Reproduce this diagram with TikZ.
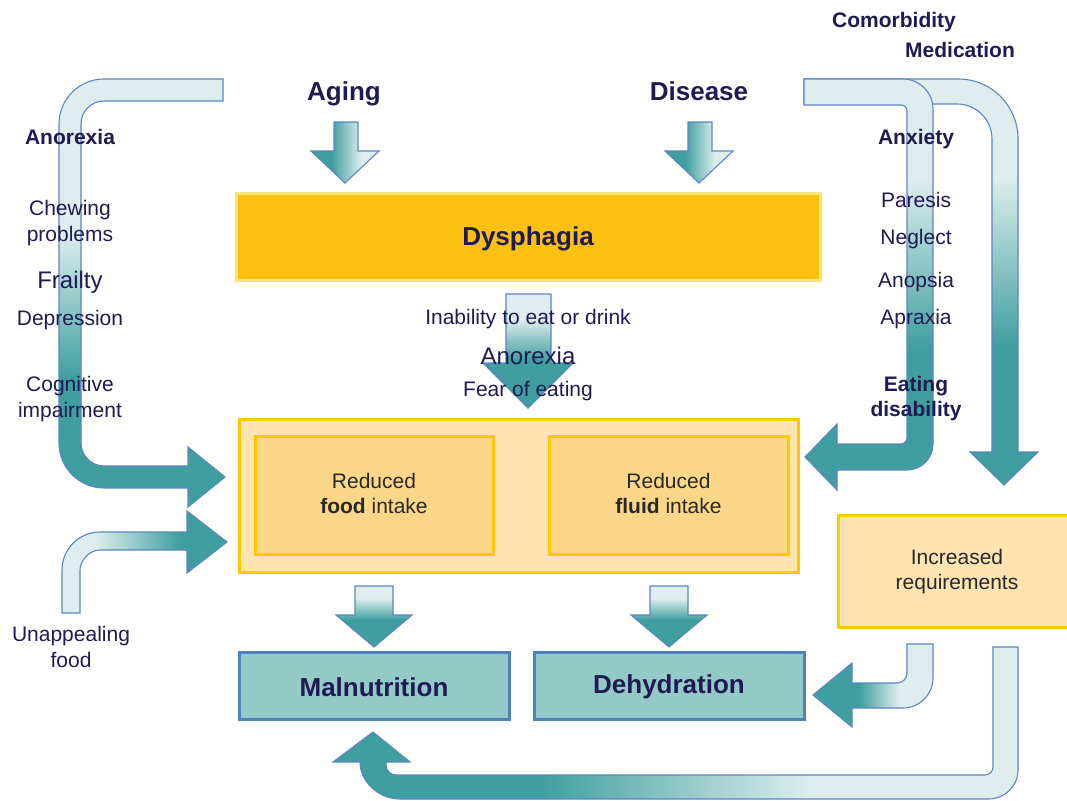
\documentclass[tikz,border=0pt]{standalone}
\usepackage{fontspec}
\setmainfont{Liberation Sans}
\definecolor{teal1}{RGB}{63,158,158}
\definecolor{light1}{RGB}{222,238,238}
\definecolor{outl}{RGB}{91,134,197}
\definecolor{navy}{RGB}{31,27,82}
\definecolor{dgray}{RGB}{40,40,40}
\definecolor{dysfill}{RGB}{251,192,18}
\definecolor{dysline}{RGB}{246,232,110}
\definecolor{peach}{RGB}{253,228,178}
\definecolor{peachtwo}{RGB}{252,215,138}
\definecolor{gold}{RGB}{255,200,0}
\definecolor{tealbox}{RGB}{147,201,198}
\definecolor{bluebox}{RGB}{79,129,189}
\pgfdeclareverticalshading{hookL}{100bp}{color(0bp)=(teal1); color(40bp)=(teal1); color(57bp)=(light1); color(100bp)=(light1)}
\pgfdeclareverticalshading{hookR}{100bp}{color(0bp)=(teal1); color(42bp)=(teal1); color(63bp)=(light1); color(100bp)=(light1)}
\pgfdeclarehorizontalshading{unapp}{100bp}{color(0bp)=(light1); color(35bp)=(light1); color(61bp)=(teal1); color(100bp)=(teal1)}
\pgfdeclarehorizontalshading{topdown}{100bp}{color(0bp)=(teal1); color(40bp)=(teal1); color(62bp)=(light1); color(100bp)=(light1)}
\pgfdeclareverticalshading{midv}{100bp}{color(0bp)=(teal1); color(46bp)=(teal1); color(64bp)=(light1); color(100bp)=(light1)}
\pgfdeclareverticalshading{smallv}{100bp}{color(0bp)=(teal1); color(47bp)=(teal1); color(65bp)=(light1); color(100bp)=(light1)}
\pgfdeclarehorizontalshading{reqdeh}{100bp}{color(0bp)=(teal1); color(44bp)=(teal1); color(61bp)=(light1); color(100bp)=(light1)}
\pgfdeclarehorizontalshading{bottomh}{100bp}{color(0bp)=(teal1); color(40bp)=(teal1); color(60bp)=(light1); color(100bp)=(light1)}
\tikzset{
  barrow/.style={draw=outl, line width=1.1pt, line join=miter},
  lbl/.style={font=\fontsize{21}{26}\selectfont, text=navy, align=center, inner sep=0pt},
  lblb/.style={font=\fontsize{21}{25}\selectfont\bfseries, text=navy, align=center, inner sep=0pt},
  lblbig/.style={font=\fontsize{24}{28}\selectfont, text=navy, align=center, inner sep=0pt},
  toplbl/.style={font=\fontsize{21}{25}\selectfont\bfseries, text=navy, inner sep=0pt},
  big/.style={font=\fontsize{26}{30}\selectfont\bfseries, text=navy, inner sep=0pt},
  boxtxt/.style={font=\fontsize{21}{25}\selectfont, text=dgray, align=center, inner sep=0pt},
  yelbox/.style={draw=gold, line width=3pt, fill=peach},
  inbox/.style={draw=gold, line width=3pt, fill=peachtwo},
  resbox/.style={draw=bluebox, line width=3pt, fill=tealbox},
}
\begin{document}
\begin{tikzpicture}[x=1pt,y=-1pt]
\useasboundingbox (0,0) rectangle (1067,800);
\clip (0,0) rectangle (1067,800);

% boxes
\node[draw=dysline, line width=3pt, fill=dysfill, minimum width=584pt, minimum height=87pt] (dys) at (528,236.5) {};
\node[big] (dystxt) at (528,239) {Dysphagia};
\node[yelbox, minimum width=559pt, minimum height=153pt] (intake) at (518.5,495.5) {};
\node[inbox, minimum width=238pt, minimum height=118pt] (food) at (374,495) {};
\node[inbox, minimum width=239pt, minimum height=118pt] (fluid) at (668.5,495) {};
\node[boxtxt] (foodtxt) at (374,493) {Reduced\\\textbf{food} intake};
\node[boxtxt] (fluidtxt) at (668.5,493) {Reduced\\\textbf{fluid} intake};
\node[resbox, minimum width=270pt, minimum height=67pt] (mal) at (374,685.5) {};
\node[big] (maltxt) at (374,687) {Malnutrition};
\node[resbox, minimum width=270pt, minimum height=67pt] (deh) at (669,685.5) {};
\node[big] (dehtxt) at (669,687) {Dehydration};
\node[yelbox, minimum width=238pt, minimum height=112pt] (inc) at (957,571) {};
\node[boxtxt] (inctxt) at (957,572) {Increased\\requirements};

% block arrows
% left big hook
\path[barrow, shading=hookL] (223,79) -- (104,79) .. controls (79.2,79) and (59,99.2) .. (59,124) -- (59,443) .. controls (59,467.8) and (79.2,488) .. (104,488) -- (188,488) -- (188,507) -- (225,477) -- (188,447) -- (188,466) -- (104,466) .. controls (91.3,466) and (81,455.3) .. (81,443) -- (81,124) .. controls (81,111.3) and (91.3,101) .. (104,101) -- (223,101) -- cycle;
% unappealing food arrow
\path[barrow, shading=unapp] (62,613) -- (62,570) .. controls (62,549) and (79,532) .. (100,532) -- (187,532) -- (187,511) -- (227,542) -- (187,573) -- (187,550) -- (100,550) .. controls (89,550) and (80,561) .. (80,570) -- (80,613) -- cycle;
% aging / disease arrows
\path[barrow, shading=topdown] (334,122) -- (358,122) -- (358,151) -- (379,151) -- (345,183) -- (311,151) -- (334,151) -- cycle;
\path[barrow, shading=topdown] (688,122) -- (712,122) -- (712,151) -- (733,151) -- (699,183) -- (665,151) -- (688,151) -- cycle;
% middle arrow
\path[barrow, shading=midv] (506,294) -- (551,294) -- (551,363) -- (573,363) -- (528,408) -- (483,363) -- (506,363) -- cycle;
% small down arrows
\path[barrow, shading=smallv] (355,586) -- (393,586) -- (393,615) -- (412,615) -- (374,647) -- (336,615) -- (355,615) -- cycle;
\path[barrow, shading=smallv] (650,586) -- (688,586) -- (688,615) -- (707,615) -- (669,647) -- (631,615) -- (650,615) -- cycle;
% right outer hook
\path[barrow, shading=hookR] (804,79) -- (958,79) .. controls (991.9,79) and (1018,105.9) .. (1018,139) -- (1018,452) -- (1038,452) -- (1004,485) -- (970,452) -- (992,452) -- (992,139) .. controls (992,119.7) and (976.3,104) .. (957,104) -- (804,104) -- cycle;
% right inner hook
\path[barrow, shading=hookR] (804,79) -- (903,79) .. controls (919.6,79) and (933,92.4) .. (933,109) -- (933,444) .. controls (933,458.4) and (921.4,470) .. (907,470) -- (837,470) -- (837,490) -- (805,457) -- (837,424) -- (837,444) -- (901,444) .. controls (904.3,444) and (907,440.7) .. (907,438) -- (907,111) .. controls (907,107.7) and (904.3,105) .. (901,105) -- (804,105) -- cycle;
% increased -> dehydration
\path[barrow, shading=reqdeh] (907,644) -- (933,644) -- (933,678) .. controls (933,694.6) and (919.6,708) .. (903,708) -- (852,708) -- (852,727) -- (813,695) -- (852,663) -- (852,683) -- (897,683) .. controls (902.5,683) and (907,678.5) .. (907,673) -- cycle;
% bottom long arrow
\path[barrow, shading=bottomh] (993,647) -- (1018,647) -- (1018,770) .. controls (1018,786.6) and (1004.6,799) .. (988,799) -- (400,799) .. controls (378,799) and (360,781) .. (360,762) -- (333,762) -- (373,732) -- (410,762) -- (386,762) -- (386,765) .. controls (386,770.5) and (390.5,775) .. (396,775) -- (985,775) .. controls (989.4,775) and (993,771.4) .. (993,767) -- cycle;

% labels
\node[big] (aging) at (344,94) {Aging};
\node[big] (disease) at (699,91) {Disease};
\node[toplbl] (comorb) at (894,22) {Comorbidity};
\node[toplbl] (medic) at (960,50) {Medication};

\node[lblb] (anorexL) at (70,137) {Anorexia};
\node[lbl] (chewing) at (70,223) {Chewing\\problems};
\node[lblbig] (frailty) at (70,282) {Frailty};
\node[lbl] (depress) at (70,320) {Depression};
\node[lbl] (cognit) at (70,399) {Cognitive\\impairment};
\node[lbl] (unapp) at (71,647) {Unappealing\\food};

\node[lblb] (anxiety) at (916,139) {Anxiety};
\node[lbl] (paresis) at (916,200) {Paresis};
\node[lbl] (neglect) at (916,239) {Neglect};
\node[lbl] (anopsia) at (916,282) {Anopsia};
\node[lbl] (apraxia) at (916,319) {Apraxia};
\node[lblb] (eating) at (916,399) {Eating\\disability};

\node[lbl] (inability) at (528,319) {Inability to eat or drink};
\node[lblbig] (anorexM) at (528,356) {Anorexia};
\node[lbl] (fear) at (528,391) {Fear of eating};
\end{tikzpicture}
\end{document}
